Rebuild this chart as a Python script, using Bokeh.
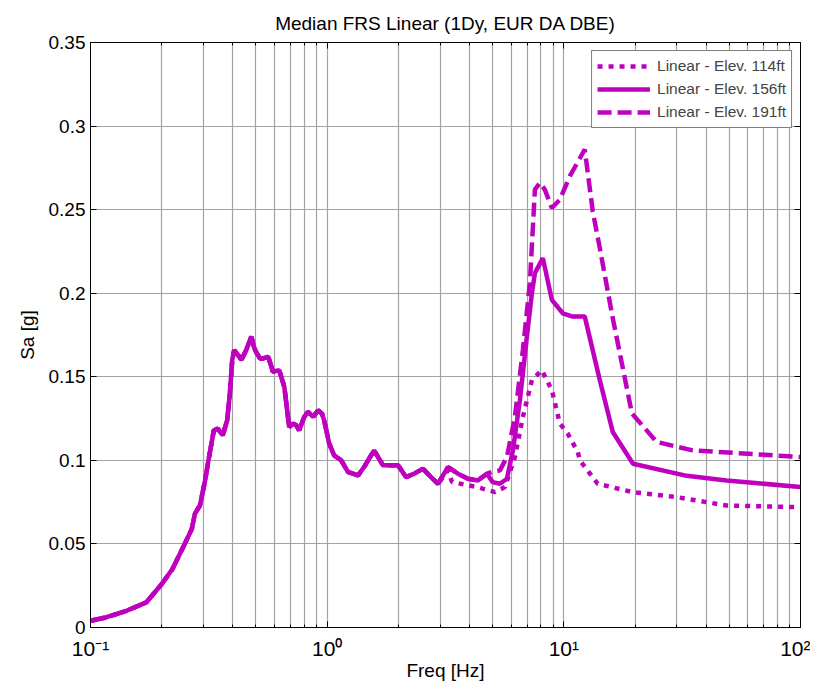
from bokeh.plotting import figure
from bokeh.models import (Range1d, FixedTicker, CustomJSTickFormatter, LogAxis,
                          LinearAxis, Legend, LegendItem)
from bokeh.embed import file_html
from bokeh.resources import INLINE

# ---------------- data ----------------
freq_common = [0.100, 0.116, 0.142, 0.172, 0.200, 0.222, 0.250, 0.268, 0.276, 0.290,
               0.305, 0.315, 0.332, 0.345, 0.362, 0.378, 0.388, 0.397, 0.405, 0.420,
               0.434, 0.455, 0.478, 0.490, 0.500, 0.520, 0.537, 0.564, 0.590, 0.627,
               0.659, 0.691, 0.720, 0.740, 0.762, 0.800, 0.831, 0.873, 0.916, 0.950,
               0.971, 1.020, 1.070, 1.146, 1.226, 1.351, 1.432, 1.578, 1.722, 1.994,
               2.154, 2.328, 2.541, 2.747, 2.941]
sa_common = [0.004, 0.006, 0.010, 0.015, 0.026, 0.035, 0.050, 0.059, 0.068, 0.073,
             0.088, 0.100, 0.118, 0.119, 0.115, 0.124, 0.140, 0.160, 0.166, 0.163,
             0.160, 0.166, 0.174, 0.168, 0.165, 0.161, 0.161, 0.162, 0.153, 0.154,
             0.144, 0.120, 0.122, 0.121, 0.118, 0.126, 0.129, 0.126, 0.130, 0.128,
             0.124, 0.110, 0.103, 0.100, 0.093, 0.091, 0.096, 0.106, 0.097, 0.097,
             0.090, 0.092, 0.095, 0.090, 0.086]

freq_114 = [3.239, 3.37, 4.30, 5.117, 5.636, 6.213, 6.714, 7.33, 8.07, 8.90, 9.62,
            10.39, 11.45, 11.7, 13.9, 19.5, 30.0, 48.7, 100.0]
sa_114 = [0.094, 0.087, 0.084, 0.081, 0.084, 0.102, 0.126, 0.148, 0.154, 0.142, 0.122,
          0.116, 0.105, 0.100, 0.086, 0.081, 0.078, 0.073, 0.072]

freq_156 = [3.239, 3.57, 3.935, 4.336, 4.73, 5.0, 5.37, 5.748, 6.094, 6.522, 6.98,
            7.33, 7.546, 8.154, 8.90, 9.90, 10.91, 12.26, 14.19, 16.1, 19.6, 32.4,
            48.7, 100.0]
sa_156 = [0.096, 0.092, 0.089, 0.088, 0.092, 0.087, 0.086, 0.089, 0.106, 0.136, 0.174,
          0.200, 0.212, 0.221, 0.196, 0.188, 0.186, 0.186, 0.148, 0.117, 0.098, 0.091,
          0.088, 0.084]

freq_191 = [3.239, 3.57, 3.935, 4.336, 4.73, 4.97, 5.37, 5.748, 6.213, 6.714, 7.187,
            7.546, 7.92, 8.31, 8.90, 9.62, 10.60, 12.26, 13.25, 14.19, 16.1, 19.4,
            24.7, 35.0, 100.0]
sa_191 = [0.096, 0.092, 0.089, 0.088, 0.092, 0.093, 0.094, 0.102, 0.126, 0.166, 0.206,
          0.262, 0.266, 0.262, 0.251, 0.256, 0.270, 0.286, 0.249, 0.227, 0.185, 0.128,
          0.111, 0.106, 0.102]

series_labels = ["Linear - Elev. 114ft", "Linear - Elev. 156ft", "Linear - Elev. 191ft"]
x_major = [0.1, 1, 10, 100]
x_minor = [0.2, 0.3, 0.4, 0.5, 0.6, 0.7, 0.8, 0.9,
           2, 3, 4, 5, 6, 7, 8, 9,
           20, 30, 40, 50, 60, 70, 80, 90]
y_ticks = [0, 0.05, 0.1, 0.15, 0.2, 0.25, 0.3, 0.35]
title_text = "Median FRS Linear (1Dy, EUR DA DBE)"
x_label = "Freq [Hz]"
y_label = "Sa [g]"

# ---------------- figure ----------------
FONT = "Liberation Sans"
COLOR = "#bf00bf"
GRID = "#a3a3a3"

p = figure(width=810, height=685, x_axis_type="log",
           x_range=Range1d(0.1, 100), y_range=Range1d(0, 0.35),
           output_backend="svg", toolbar_location=None, title=title_text,
           min_border_left=90, min_border_right=10, min_border_top=42,
           min_border_bottom=58)

p.title.align = "center"
p.title.text_font = FONT
p.title.text_font_size = "19px"
p.title.text_font_style = "normal"
p.title.text_color = "black"
p.title.standoff = 17

p.outline_line_color = "black"
p.outline_line_width = 1
p.background_fill_color = "white"
p.border_fill_color = "white"

xt = FixedTicker(ticks=x_major, minor_ticks=x_minor)
yt = FixedTicker(ticks=y_ticks)

xfmt = CustomJSTickFormatter(code="""
const e = Math.round(Math.log10(tick));
const m = {"-": "\u207b", "0": "\u2070", "1": "\u00b9", "2": "\u00b2", "3": "\u00b3"};
return "10" + String(e).split("").map(c => m[c]).join("");
""")
yfmt = CustomJSTickFormatter(code="return String(Number(tick.toFixed(2)));")

xa = p.xaxis[0]
xa.ticker = xt
xa.formatter = xfmt
xa.axis_label = x_label
ya = p.yaxis[0]
ya.ticker = yt
ya.formatter = yfmt
ya.axis_label = y_label

for ax in (xa, ya):
    ax.axis_line_color = "black"
    ax.major_tick_line_color = "black"
    ax.minor_tick_line_color = "black"
    ax.major_tick_in = 6
    ax.major_tick_out = 0
    ax.minor_tick_in = 3
    ax.minor_tick_out = 0
    ax.major_label_text_font = FONT
    ax.major_label_text_font_size = "19px"
    ax.major_label_text_color = "black"
    ax.axis_label_text_font = FONT
    ax.axis_label_text_font_size = "19px"
    ax.axis_label_text_font_style = "normal"
    ax.axis_label_text_color = "black"
xa.major_label_text_font_size = "21px"
ya.minor_tick_line_color = None
xa.major_label_standoff = 9
xa.axis_label_standoff = -3
ya.major_label_standoff = 5
ya.axis_label_standoff = 8

# mirror axes (box ticks)
empty = CustomJSTickFormatter(code="return '';")
top = LogAxis(ticker=xt, formatter=empty, major_tick_in=6, major_tick_out=0,
              minor_tick_in=3, minor_tick_out=0, major_label_standoff=0,
              major_label_text_font_size="1px", axis_line_color="black")
right = LinearAxis(ticker=yt, formatter=empty, major_tick_in=6, major_tick_out=0,
                   minor_tick_line_color=None, major_label_standoff=0,
                   major_label_text_font_size="1px", axis_line_color="black")
p.add_layout(top, "above")
p.add_layout(right, "right")

# grid
p.xgrid.grid_line_color = GRID
p.xgrid.minor_grid_line_color = GRID
p.xgrid.grid_line_width = 1.2
p.xgrid.minor_grid_line_width = 1.2
p.ygrid.grid_line_color = GRID
p.ygrid.grid_line_width = 1.2

# ---------------- lines ----------------
r114 = p.line(freq_common + freq_114, sa_common + sa_114, line_color=COLOR,
              line_width=4.5, line_dash="5 6")
r156 = p.line(freq_common + freq_156, sa_common + sa_156, line_color=COLOR,
              line_width=4.5)
r191 = p.line(freq_common + freq_191, sa_common + sa_191, line_color=COLOR,
              line_width=4.5, line_dash="14 6")

legend = Legend(items=[LegendItem(label=series_labels[0], renderers=[r114]),
                       LegendItem(label=series_labels[1], renderers=[r156]),
                       LegendItem(label=series_labels[2], renderers=[r191])],
                location="top_right", margin=8, padding=5, spacing=3,
                glyph_width=53, glyph_height=20, label_standoff=7,
                label_text_font=FONT, label_text_font_size="15.5px",
                border_line_color="black", border_line_width=1,
                background_fill_color="white", background_fill_alpha=1)
p.add_layout(legend)

open("out.html", "w").write(file_html(p, INLINE))
